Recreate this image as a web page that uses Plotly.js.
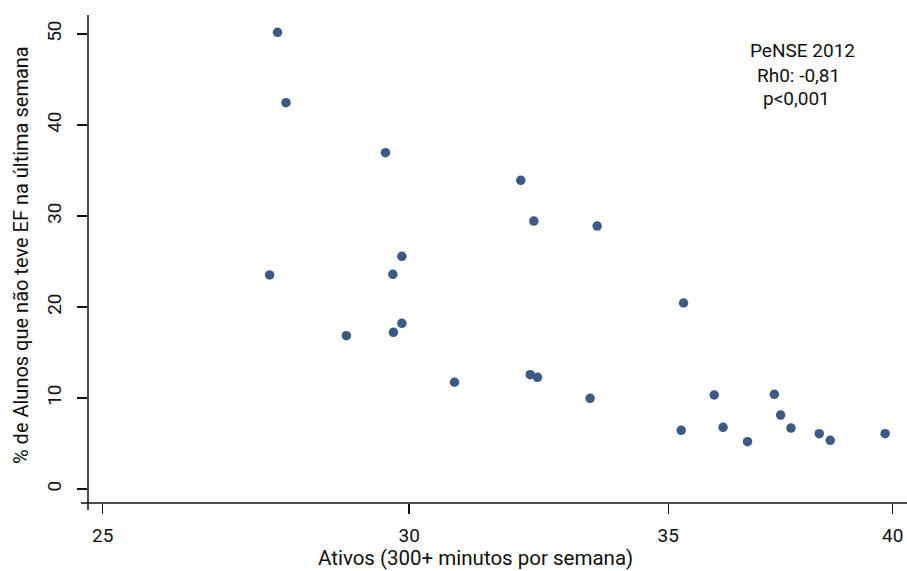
<!DOCTYPE html>
<html>
<head>
<meta charset="utf-8">
<script src="https://cdn.plot.ly/plotly-3.0.1.min.js"></script>
<style>html,body{margin:0;padding:0;background:#fff;}#chart{width:907px;height:571px;}</style>
</head>
<body>
<div id="chart"></div>
<script>
// Data
const ativos = [27.74, 27.88, 29.58, 27.61, 29.87, 29.71, 29.87, 29.72, 28.90, 30.82,
                32.06, 32.31, 33.55, 35.32, 32.24, 32.38, 33.41, 35.97, 37.28, 35.27,
                36.16, 36.69, 37.42, 37.65, 38.29, 38.54, 39.82];
const semEF  = [50.19, 42.45, 36.96, 23.52, 25.57, 23.59, 18.21, 17.22, 16.85, 11.73,
                33.92, 29.45, 28.90, 20.44, 12.56, 12.27, 9.97, 10.33, 10.41, 6.45,
                6.78, 5.20, 8.13, 6.70, 6.08, 5.35, 6.08];
const xTicks = [25, 30, 35, 40];
const yTicks = [0, 10, 20, 30, 40, 50];
const xTitle = 'Ativos (300+ minutos por semana)';
const yTitle = '% de Alunos que não teve EF na última semana';
const noteLines = ["PeNSE 2012", "Rh0: -0,81", "p<0,001"];

const FONT = "Roboto, 'DejaVu Sans', sans-serif";
const W = 907, H = 571;
const L = 88, R = 0, T = 15, B = 68;
const pw = W - L - R, ph = H - T - B;
const px2x = p => (p - L) / pw;
const px2y = p => (H - B - p) / ph;

const trace = {
  type: 'scatter', mode: 'markers',
  x: ativos, y: semEF,
  marker: {color: '#3b5a85', size: 9.5, line: {width: 0}},
  hoverinfo: 'x+y'
};

const notePx = [[802.5, 50.7], [798.5, 75], [796, 98]];
const annotations = noteLines.map((t, i) => ({
  text: t, xref: 'paper', yref: 'paper',
  x: px2x(notePx[i][0]), y: px2y(notePx[i][1]),
  xanchor: 'center', yanchor: 'middle', showarrow: false,
  font: {family: FONT, size: 19, color: '#111'}
}));
annotations.push({
  text: xTitle, xref: 'paper', yref: 'paper',
  x: px2x(475), y: px2y(558), xanchor: 'center', yanchor: 'middle', showarrow: false,
  font: {family: FONT, size: 20.5, color: '#111'}
});
annotations.push({
  text: yTitle, xref: 'paper', yref: 'paper', textangle: -90,
  x: px2x(21), y: px2y(255), xanchor: 'center', yanchor: 'middle', showarrow: false,
  font: {family: FONT, size: 20, color: '#111'}
});

const layout = {
  width: W, height: H,
  margin: {l: L, r: R, t: T, b: B, pad: 0},
  paper_bgcolor: '#fff', plot_bgcolor: '#fff',
  showlegend: false,
  font: {family: FONT, color: '#111'},
  xaxis: {
    type: 'log', range: [1.39414, 1.60575],
    tickmode: 'array', tickvals: xTicks, ticktext: xTicks.map(String),
    ticks: 'outside', ticklen: 10, tickwidth: 1.5, tickcolor: '#111',
    ticklabelstandoff: 5,
    showline: false, showgrid: false, zeroline: false,
    tickfont: {family: FONT, size: 19, color: '#111'}
  },
  yaxis: {
    range: [-1.538, 52.09],
    tickmode: 'array', tickvals: yTicks, ticktext: yTicks.map(String),
    tickangle: -90,
    ticks: 'outside', ticklen: 10, tickwidth: 1.5, tickcolor: '#111',
    ticklabelstandoff: 8,
    showline: false, showgrid: false, zeroline: false,
    tickfont: {family: FONT, size: 19, color: '#111'}
  },
  shapes: [
    {type: 'line', xref: 'paper', yref: 'paper', x0: px2x(81), x1: 1, y0: 0, y1: 0,
     line: {color: '#111', width: 1.5}},
    {type: 'line', xref: 'paper', yref: 'paper', x0: 0, x1: 0, y0: -7 / ph, y1: 1,
     line: {color: '#111', width: 1.5}}
  ],
  annotations: annotations
};

Plotly.newPlot('chart', [trace], layout, {displayModeBar: false, staticPlot: true});
</script>
</body>
</html>
